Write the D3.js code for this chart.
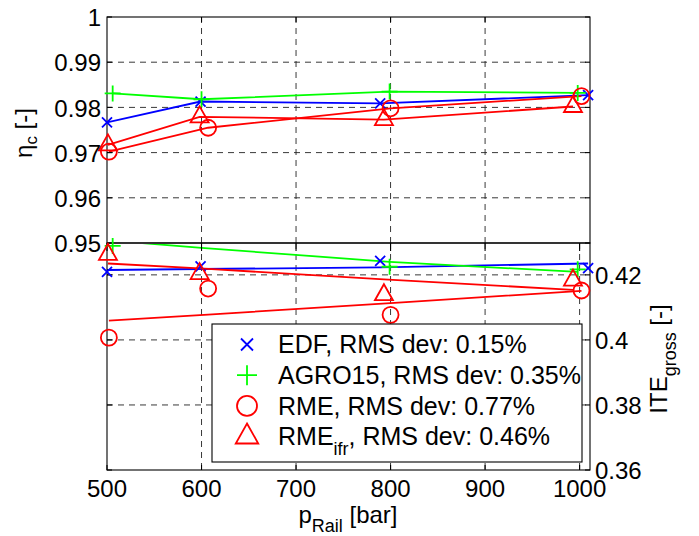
<!DOCTYPE html>
<html><head><meta charset="utf-8">
<script src="https://cdn.jsdelivr.net/npm/d3@7"></script>
<style>body{margin:0;background:#fff} text{font-family:"Liberation Sans",Arial,Helvetica,sans-serif;fill:#000}</style>
</head><body><svg id="c" width="699" height="536"></svg>
<script>
// ---- data ----
const xTicks = [500, 600, 700, 800, 900, 1000];
const xGridTop = [600, 700, 800, 900];
const etaTicks = [0.95, 0.96, 0.97, 0.98, 0.99, 1];
const iteTicks = [0.36, 0.38, 0.4, 0.42];

const pEDF = [500, 599, 789, 1009];
const pAGRO = [506, 600, 799, 998];
const pRME = [502, 607, 800, 1002];
const pRMEifr = [501, 598, 793, 993];

// eta_c (top panel), measured points joined by lines
const etaEDF = [0.9767, 0.9813, 0.9809, 0.9827];
const etaAGRO = [0.9831, 0.9818, 0.9835, 0.9832];
const etaRME = [0.9702, 0.9755, 0.9798, 0.9825];
const etaRMEifr = [0.9717, 0.9779, 0.9773, 0.9802];

// ITE_gross (bottom panel): measured markers
const iteEDF = [0.4209, 0.4226, 0.4243, 0.4221];
const iteAGRO = [0.4289, null, 0.4225, 0.4217];
const iteRME = [0.4007, 0.4158, 0.4077, 0.4152];
const iteRMEifr = [0.4263, 0.4204, 0.4139, 0.4184];
// ITE_gross model lines
const iteLineEDF = [0.4215, 0.4218, 0.4223, 0.4235];
const iteLineAGRO = [0.4305, 0.4283, 0.4240, 0.4209];
const iteLineRME = [0.4059, 0.4078, 0.4113, 0.4151];
const iteLineRMEifr = [0.4235, 0.4220, 0.4186, 0.4154];

const legendLabels = ["EDF", "AGRO15", "RME", "RME"];
const legendSubs = ["", "", "", "ifr"];
const legendDevs = ["0.15%", "0.35%", "0.77%", "0.46%"];

// ---- layout ----
const L = 107, R = 590, T = 17, M = 243, B = 470;
const svg = d3.select("#c");
const x = d3.scaleLinear().domain([500, 1011]).range([L, R]);
const yTop = d3.scaleLinear().domain([0.95, 1]).range([M, T]);
const yBot = d3.scaleLinear().domain([0.36, 0.4298]).range([B, M]);

const series = [
  {p: pEDF, eta: etaEDF, ite: iteEDF, line: iteLineEDF, color: "#0000ff", m: "x"},
  {p: pAGRO, eta: etaAGRO, ite: iteAGRO, line: iteLineAGRO, color: "#00ff00", m: "+"},
  {p: pRME, eta: etaRME, ite: iteRME, line: iteLineRME, color: "#ff0000", m: "o"},
  {p: pRMEifr, eta: etaRMEifr, ite: iteRMEifr, line: iteLineRMEifr, color: "#ff0000", m: "^"}
];

function markerPath(m, k) {
  if (m === "x") { const s = 5*k; return `M${-s},${-s}L${s},${s}M${-s},${s}L${s},${-s}`; }
  if (m === "+") { const s = 8*k; return `M${-s},0L${s},0M0,${-s}L0,${s}`; }
  if (m === "^") return `M0,${-10.5*k}L${9*k},${5.5*k}L${-9*k},${5.5*k}Z`;
  return null;
}
function drawMarker(g, m, cx, cy, color, k) {
  if (m === "o") {
    g.append("circle").attr("cx", cx).attr("cy", cy).attr("r", 8*k)
      .attr("fill", "none").attr("stroke", color).attr("stroke-width", 1.8);
  } else {
    g.append("path").attr("transform", `translate(${cx},${cy})`).attr("d", markerPath(m, k))
      .attr("fill", "none").attr("stroke", color).attr("stroke-width", 1.8);
  }
}

const dash = "6,5";
// ---- grid ----
const grid = svg.append("g").attr("stroke", "#222").attr("stroke-width", 0.9).attr("stroke-dasharray", dash);
etaTicks.filter(v => v > 0.95 && v < 1).forEach(v =>
  grid.append("line").attr("x1", L).attr("x2", R).attr("y1", yTop(v)).attr("y2", yTop(v)));
xGridTop.forEach(v =>
  grid.append("line").attr("x1", x(v)).attr("x2", x(v)).attr("y1", T).attr("y2", M));
iteTicks.filter(v => v > 0.36).forEach(v =>
  grid.append("line").attr("x1", L).attr("x2", R).attr("y1", yBot(v)).attr("y2", yBot(v)));
xTicks.filter(v => v > 500).forEach(v =>
  grid.append("line").attr("x1", x(v)).attr("x2", x(v)).attr("y1", M).attr("y2", B));

// ---- clips ----
const defs = svg.append("defs");
defs.append("clipPath").attr("id", "clipTop").append("rect").attr("x", L).attr("y", T).attr("width", R-L).attr("height", M-T);
defs.append("clipPath").attr("id", "clipBot").append("rect").attr("x", L).attr("y", M + 1).attr("width", R-L).attr("height", B-M-1);

// ---- lines ----
const lineTop = d3.line().x(d => x(d[0])).y(d => yTop(d[1]));
const lineBot = d3.line().x(d => x(d[0])).y(d => yBot(d[1]));
const gl = svg.append("g").attr("fill", "none").attr("stroke-width", 1.8);
series.forEach(s => {
  gl.append("path").attr("d", lineTop(d3.zip(s.p, s.eta))).attr("stroke", s.color).attr("clip-path", "url(#clipTop)");
  gl.append("path").attr("d", lineBot(d3.zip(s.p, s.line))).attr("stroke", s.color).attr("clip-path", "url(#clipBot)");
});

// ---- axes boxes & ticks ----
const ax = svg.append("g").attr("stroke", "#000").attr("stroke-width", 1.1).attr("fill", "none");
ax.append("rect").attr("x", L).attr("y", T).attr("width", R-L).attr("height", M-T);
ax.append("rect").attr("x", L).attr("y", M).attr("width", R-L).attr("height", B-M);
const tl = 5;
etaTicks.forEach(v => {
  ax.append("line").attr("x1", L).attr("x2", L+tl).attr("y1", yTop(v)).attr("y2", yTop(v));
  ax.append("line").attr("x1", R).attr("x2", R-tl).attr("y1", yTop(v)).attr("y2", yTop(v));
});
xGridTop.forEach(v => ax.append("line").attr("x1", x(v)).attr("x2", x(v)).attr("y1", T).attr("y2", T+tl));
iteTicks.forEach(v => {
  ax.append("line").attr("x1", L).attr("x2", L+tl).attr("y1", yBot(v)).attr("y2", yBot(v));
  ax.append("line").attr("x1", R).attr("x2", R-tl).attr("y1", yBot(v)).attr("y2", yBot(v));
});
xTicks.forEach(v => {
  ax.append("line").attr("x1", x(v)).attr("x2", x(v)).attr("y1", B).attr("y2", B-tl);
  ax.append("line").attr("x1", x(v)).attr("x2", x(v)).attr("y1", M).attr("y2", M+tl+3);
});

// ---- markers ----
const gm = svg.append("g");
series.forEach(s => {
  s.p.forEach((p, i) => {
    drawMarker(gm, s.m, x(p), yTop(s.eta[i]), s.color, 1);
    if (s.ite[i] != null) drawMarker(gm, s.m, x(p), yBot(s.ite[i]), s.color, 1);
  });
});

// ---- legend ----
const lg = svg.append("g");
const lx = 212, ly = 324, lw = 370, lh = 138;
lg.append("rect").attr("x", lx).attr("y", ly).attr("width", lw).attr("height", lh)
  .attr("fill", "#fff").attr("stroke", "#000").attr("stroke-width", 1.1);
series.forEach((s, i) => {
  const cy = ly + 20.5 + i * 30.7;
  drawMarker(lg, s.m, 247, cy, s.color, s.m === "x" ? 1.2 : 1.25);
  const t = lg.append("text").attr("x", 278).attr("y", cy + 8.8).attr("font-size", 25);
  t.append("tspan").text(legendLabels[i]);
  if (legendSubs[i]) {
    t.append("tspan").attr("dy", 10).attr("font-size", 18).text(legendSubs[i]);
    t.append("tspan").attr("dy", -10).text(", RMS dev: " + legendDevs[i]);
  } else {
    t.append("tspan").text(", RMS dev: " + legendDevs[i]);
  }
});

// ---- tick labels ----
const fs = 24;
svg.append("g").selectAll("text").data(etaTicks).join("text")
  .attr("x", 101).attr("y", d => yTop(d)).attr("dy", "0.38em").attr("text-anchor", "end")
  .attr("font-size", fs).text(d => String(d));
svg.append("g").selectAll("text").data(iteTicks).join("text")
  .attr("x", 595).attr("y", d => yBot(d)).attr("dy", "0.38em").attr("text-anchor", "start")
  .attr("font-size", fs).text(d => String(d));
svg.append("g").selectAll("text").data(xTicks).join("text")
  .attr("x", d => x(d)).attr("y", 497).attr("text-anchor", "middle")
  .attr("font-size", fs).text(d => String(d));

// ---- axis titles ----
const yl = svg.append("text").attr("transform", "translate(32,133) rotate(-90)")
  .attr("text-anchor", "middle").attr("font-size", fs);
yl.append("tspan").text("η");
yl.append("tspan").attr("dy", 5).attr("font-size", 17).text("c");
yl.append("tspan").attr("dy", -5).text(" [-]");

const yr = svg.append("text").attr("transform", "translate(667,359) rotate(-90)")
  .attr("text-anchor", "middle").attr("font-size", fs);
yr.append("tspan").text("ITE");
yr.append("tspan").attr("dy", 9).attr("font-size", 18).text("gross");
yr.append("tspan").attr("dy", -9).text(" [-]");

const xl = svg.append("text").attr("x", 348).attr("y", 523).attr("text-anchor", "middle").attr("font-size", fs);
xl.append("tspan").text("p");
xl.append("tspan").attr("dy", 9).attr("font-size", 18).text("Rail");
xl.append("tspan").attr("dy", -9).text(" [bar]");
</script></body></html>
